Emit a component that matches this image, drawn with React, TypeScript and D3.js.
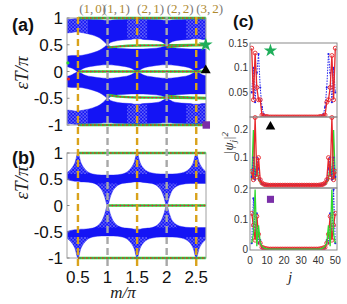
import React from 'react';
import * as d3 from 'd3';

// ---------- Panel (a)/(b) band data (ε/π vs m/π) ----------
const mGrid = [0.32, 0.4, 0.45, 0.5, 0.55, 0.6, 0.75, 0.9, 0.95, 1.0, 1.05, 1.1, 1.25, 1.4, 1.45, 1.5, 1.55, 1.6, 1.75, 1.9, 1.95, 2.0, 2.05, 2.1, 2.25, 2.4, 2.45, 2.5, 2.55, 2.6, 2.66];
// (a) upper band near π
const aP1hi = [0.97, 0.98, 0.99, 1.0, 0.99, 0.98, 0.97, 0.965, 0.96, 0.96, 0.96, 0.965, 0.97, 0.98, 0.99, 1.0, 0.99, 0.98, 0.97, 0.965, 0.96, 0.96, 0.96, 0.965, 0.97, 0.98, 0.99, 1.0, 0.99, 0.98, 0.975];
const aP1lo = [0.72, 0.73, 0.74, 0.74, 0.73, 0.72, 0.68, 0.6, 0.55, 0.5, 0.54, 0.56, 0.59, 0.6, 0.61, 0.61, 0.61, 0.6, 0.59, 0.56, 0.53, 0.5, 0.53, 0.56, 0.59, 0.6, 0.61, 0.61, 0.61, 0.6, 0.6];
// (a) band between 0 and π/2
const aP2hi = [0.29, 0.3, 0.3, 0.3, 0.3, 0.31, 0.35, 0.42, 0.46, 0.5, 0.47, 0.45, 0.43, 0.42, 0.42, 0.42, 0.42, 0.42, 0.43, 0.45, 0.47, 0.5, 0.47, 0.45, 0.43, 0.42, 0.42, 0.42, 0.42, 0.42, 0.42];
const aP2lo = [0.09, 0.06, 0.03, 0.0, 0.03, 0.06, 0.1, 0.12, 0.125, 0.125, 0.125, 0.12, 0.1, 0.06, 0.03, 0.0, 0.03, 0.06, 0.1, 0.12, 0.125, 0.125, 0.125, 0.12, 0.1, 0.06, 0.03, 0.0, 0.03, 0.06, 0.08];
// (b) band
const bHi = [0.63, 0.72, 0.82, 1.0, 0.82, 0.72, 0.6, 0.58, 0.58, 0.58, 0.58, 0.58, 0.6, 0.72, 0.82, 1.0, 0.82, 0.72, 0.62, 0.6, 0.6, 0.6, 0.6, 0.6, 0.62, 0.72, 0.82, 1.0, 0.82, 0.72, 0.65];
const bLo = [0.49, 0.47, 0.46, 0.46, 0.45, 0.45, 0.43, 0.3, 0.17, 0.0, 0.17, 0.3, 0.42, 0.44, 0.45, 0.45, 0.45, 0.44, 0.42, 0.3, 0.17, 0.0, 0.17, 0.3, 0.4, 0.42, 0.42, 0.42, 0.42, 0.42, 0.42];

// edge-state lines [m, ε]
const aEdgePi = [[0.5, 1], [2.66, 1]];
const aEdgeMinusPi = [[0.5, -1], [2.66, -1]];
const aEdgeZero = [[0.5, 0], [2.66, 0]];
const aEdgeHalf1 = [[1.0, 0.45], [1.2, 0.47], [1.5, 0.485], [2.0, 0.49], [2.66, 0.5]];
const aEdgeHalf2 = [[2.0, 0.45], [2.2, 0.475], [2.5, 0.49], [2.66, 0.495]];
const aEdgeMHalf1 = [[1.0, -0.44], [1.2, -0.47], [1.5, -0.485], [2.0, -0.49], [2.66, -0.5]];
const aEdgeMHalf2 = [[2.0, -0.45], [2.2, -0.475], [2.5, -0.49], [2.66, -0.495]];
const aEdgeDots = [[0.33, 0.16, 'g'], [0.34, -0.14, 'r']];
const bEdgePi = [[0.5, 1], [2.66, 1]];
const bEdgeMinusPi = [[0.5, -1], [2.66, -1]];
const bEdgeZero = [[1.0, 0], [2.66, 0]];

const transitionM = [0.5, 1.0, 1.5, 2.0, 2.5];
const transitionKind = ['gold', 'gray', 'gold', 'gray', 'gold'];
const windingLabels = [['1', '0'], ['1', '1'], ['2', '1'], ['2', '2'], ['3', '2']];
const windingLabelM = [0.52, 0.92, 1.5, 2.0, 2.5];

// fan (mesh-textured) regions: [ε from, ε to] for each transition kind
const aMeshRanges: Record<string, number[][]> = { gold: [[0.62, 1], [-1, -0.62]], gray: [] };
const bMeshRanges: Record<string, number[][]> = { gold: [[0.6, 1], [-1, -0.6]], gray: [[-0.42, 0.42]] };

const yTicks = [-1, -0.5, 0, 0.5, 1];
const yTickLabels = ['-1', '-0.5', '0', '0.5', '1'];
const xTicks = [0.5, 1, 1.5, 2, 2.5];
const xTickLabels = ['0.5', '1', '1.5', '2', '2.5'];

// markers at right edge of (a): [m, ε]
const aMarkers = [[2.66, 0.5, 'star'], [2.66, 0.02, 'tri'], [2.67, -1, 'sq']];

// ---------- Panel (c): |ψ_j|^2 ----------
const cBulk = [0, 0, 0, 0, 0, 0, 0, 0, 0, 0, 0, 0, 0, 0, 0, 0, 0, 0, 0, 0, 0, 0, 0, 0, 0, 0, 0, 0, 0, 0];
const cTopRedL = [0.14, 0.035, 0.13, 0.06, 0.035, 0.035, 0.004, 0.002, 0.001, 0.001];
const cTopRedR = [0.001, 0.001, 0.002, 0.004, 0.03, 0.035, 0.06, 0.125, 0.035, 0.14];
const cTopBlueL = [0.05, 0.1, 0.03, 0.09, 0.128, 0.06, 0.02, 0.006, 0.002, 0.001];
const cTopBlueR = [0.001, 0.002, 0.006, 0.02, 0.06, 0.128, 0.09, 0.03, 0.1, 0.05];
const cMidRedL = [0.05, 0.02, 0.245, 0.03, 0.1, 0.02, 0.008, 0.004, 0.002, 0.001];
const cMidRedR = [0.001, 0.002, 0.004, 0.008, 0.02, 0.1, 0.03, 0.245, 0.02, 0.05];
const cMidGreenL = [0.02, 0.2, 0.02, 0.08, 0.02, 0.01, 0.003, 0.001, 0.001, 0];
const cMidGreenR = [0, 0.001, 0.001, 0.003, 0.01, 0.02, 0.08, 0.02, 0.2, 0.02];
const cMidBlueL = [0.03, 0.1, 0.02, 0.1, 0.06, 0.02, 0.006, 0.003, 0.001, 0.001];
const cMidBlueR = [0.001, 0.001, 0.003, 0.006, 0.02, 0.06, 0.1, 0.02, 0.1, 0.03];
const cBotGreenL = [0.02, 0.05, 0.2, 0.01, 0.08, 0.02, 0.01, 0.005, 0.002, 0.001];
const cBotGreenR = [0.001, 0.002, 0.005, 0.01, 0.02, 0.08, 0.01, 0.2, 0.05, 0.02];
const cBotBlueL = [0.02, 0.17, 0.05, 0.12, 0.02, 0.03, 0.005, 0.003, 0.001, 0.001];
const cBotBlueR = [0.001, 0.001, 0.003, 0.005, 0.03, 0.02, 0.12, 0.05, 0.2, 0.02];
const cBotRedL = [0.12, 0.08, 0.03, 0.11, 0.05, 0.02, 0.006, 0.004, 0.002, 0.001];
const cBotRedR = [0.001, 0.002, 0.004, 0.006, 0.02, 0.05, 0.11, 0.03, 0.08, 0.12];
const cTopTicks = [0.05, 0.1, 0.15];
const cTopTickLabels = ['0.05', '0.1', '0.15'];
const cMidTicks = [0.1, 0.2];
const cMidTickLabels = ['0.1', '0.2'];
const cBotTicks = [0, 0.1, 0.2];
const cBotTickLabels = ['0', '0.1', '0.2'];
const cXTicks = [0, 10, 20, 30, 40, 50];
const cMarkerJ = 12;
const cMarkerVals = [0.135, 0.212, 0.167];

// ---------- scales ----------
const x = d3.scaleLinear().domain([0.315, 2.665]).range([67, 206]);
const ya = d3.scaleLinear().domain([-1, 1]).range([125, 18]);
const yb = d3.scaleLinear().domain([-1, 1]).range([258, 153]);
const xc = d3.scaleLinear().domain([0, 51]).range([250, 337]);
const ycTop = d3.scaleLinear().domain([0, 0.1505]).range([117, 43]);
const ycMid = d3.scaleLinear().domain([-0.01, 0.247]).range([188, 117]);
const ycBot = d3.scaleLinear().domain([-0.003, 0.205]).range([250, 188]);

const BLUE = '#1414f5';
const GOLD = '#d9a21b';
const GREEN = '#2fd92f';
const RED = '#e8262b';
const PURPLE = '#7a2fa8';
const SANS = 'Liberation Sans, Arial, sans-serif';
const SERIF = 'Liberation Serif, Times New Roman, serif';

function bandPath(y: any, lo: number[], hi: number[]) {
  const pts = mGrid.map((m, i) => ({ m, lo: lo[i], hi: hi[i] }));
  return d3.area<any>().x(d => x(d.m)).y0(d => y(d.lo)).y1(d => y(d.hi)).curve(d3.curveMonotoneX)(pts) as string;
}

function EdgeLine({ pts, y }: { pts: number[][]; y: any }) {
  const line = d3.line<number[]>().x(d => x(d[0])).y(d => y(d[1])).curve(d3.curveMonotoneX);
  const p = line(pts) as string;
  return (
    <g fill="none">
      <path d={p} stroke={GREEN} strokeWidth={2.4} />
      <path d={p} stroke={RED} strokeWidth={1.3} strokeDasharray="1.6,2.4" />
      <path d={p} stroke={PURPLE} strokeWidth={1} strokeDasharray="1,3" strokeDashoffset={2} />
    </g>
  );
}

function Marker({ kind, cx, cy, size }: { kind: string; cx: number; cy: number; size: number }) {
  if (kind === 'star') {
    return <path d={d3.symbol().type(d3.symbolStar).size(size * 1.1)() as string} transform={`translate(${cx},${cy})`} fill="#1fae5a" />;
  }
  if (kind === 'tri') {
    return <path d={d3.symbol().type(d3.symbolTriangle).size(size * 0.8)() as string} transform={`translate(${cx},${cy})`} fill="#000" />;
  }
  const s = Math.sqrt(size);
  return <rect x={cx - s / 2} y={cy - s / 2} width={s} height={s} fill={PURPLE} />;
}

function BandPanel({ y, top, bottom, bands, edges, label, labelY, meshRanges }: any) {
  return (
    <g>
      <clipPath id={`clip-${label}`}>
        <rect x={67} y={top} width={139} height={bottom - top} />
      </clipPath>
      <clipPath id={`bandclip-${label}`}>
        {bands.map((b: any, i: number) => <path key={i} d={bandPath(y, b[0], b[1])} />)}
      </clipPath>
      <g clipPath={`url(#clip-${label})`}>
        {bands.map((b: any, i: number) => (
          <path key={i} d={bandPath(y, b[0], b[1])} fill={BLUE} stroke={BLUE} strokeWidth={0.4} />
        ))}
        <g clipPath={`url(#bandclip-${label})`}>
          {transitionM.map((m, i) => meshRanges[transitionKind[i]].map((r: number[], k: number) => (
            <rect key={`${i}-${k}`} x={x(m - 0.17)} y={y(r[1])} width={x(m + 0.17) - x(m - 0.17)} height={y(r[0]) - y(r[1])} fill="url(#mesh)" />
          )))}
        </g>
      </g>
      <rect x={67} y={top} width={139} height={bottom - top} fill="none" stroke="#a0a0a0" strokeWidth={1} />
      {yTicks.map((t, i) => (
        <g key={i}>
          <line x1={67} x2={69.5} y1={y(t)} y2={y(t)} stroke="#888" />
          <text x={63} y={y(t)} dy="0.36em" textAnchor="end" fontFamily={SANS} fontSize={17} fill="#111">{yTickLabels[i]}</text>
        </g>
      ))}
      {edges.map((e: any, i: number) => <EdgeLine key={i} pts={e} y={y} />)}
      <text x={22} y={labelY} fontFamily={SERIF} fontStyle="italic" fontSize={19} textAnchor="middle" transform={`rotate(-90,22,${labelY})`} dy="0.3em" fill="#222">εT/π</text>
    </g>
  );
}

function CSeries({ vals, ys, color, kind }: { vals: number[]; ys: any; color: string; kind: string }) {
  const pts = vals.map((v, i) => [i + 1, v]);
  const line = d3.line<number[]>().x(d => xc(d[0])).y(d => ys(d[1]));
  const p = line(pts) as string;
  if (kind === 'red') {
    return (
      <g>
        <path d={p} fill="none" stroke={color} strokeWidth={1.3} />
        {pts.map((d, i) => <circle key={i} cx={xc(d[0])} cy={ys(d[1])} r={2} fill="none" stroke={color} strokeWidth={0.9} />)}
      </g>
    );
  }
  if (kind === 'blue') {
    return (
      <g>
        <path d={p} fill="none" stroke={color} strokeWidth={1} strokeDasharray="1.5,1.2" />
        {pts.map((d, i) => <circle key={i} cx={xc(d[0])} cy={ys(d[1])} r={1.1} fill={color} />)}
      </g>
    );
  }
  return <path d={p} fill="none" stroke={color} strokeWidth={1.3} />;
}

export default function App() {
  const bandsA = [
    [aP1lo, aP1hi],
    [aP2lo, aP2hi],
    [aP2hi.map(v => -v), aP2lo.map(v => -v)],
    [aP1hi.map(v => -v), aP1lo.map(v => -v)],
  ];
  const bandsB = [
    [bLo, bHi],
    [bHi.map(v => -v), bLo.map(v => -v)],
  ];
  const cTopRed = [...cTopRedL, ...cBulk, ...cTopRedR];
  const cTopBlue = [...cTopBlueL, ...cBulk, ...cTopBlueR];
  const cMidRed = [...cMidRedL, ...cBulk, ...cMidRedR];
  const cMidGreen = [...cMidGreenL, ...cBulk, ...cMidGreenR];
  const cMidBlue = [...cMidBlueL, ...cBulk, ...cMidBlueR];
  const cBotRed = [...cBotRedL, ...cBulk, ...cBotRedR];
  const cBotGreen = [...cBotGreenL, ...cBulk, ...cBotGreenR];
  const cBotBlue = [...cBotBlueL, ...cBulk, ...cBotBlueR];
  const cx0 = xc(0), cx1 = xc(51);
  const subs = [
    { ys: ycTop, top: 43, bottom: 117, ticks: cTopTicks, labels: cTopTickLabels, series: [[cTopBlue, '#2222ee', 'blue'], [cTopRed, RED, 'red']], marker: 'star' },
    { ys: ycMid, top: 117, bottom: 188, ticks: cMidTicks, labels: cMidTickLabels, series: [[cMidGreen, GREEN, 'green'], [cMidBlue, '#2222ee', 'blue'], [cMidRed, RED, 'red']], marker: 'tri' },
    { ys: ycBot, top: 188, bottom: 250, ticks: cBotTicks, labels: cBotTickLabels, series: [[cBotBlue, '#2222ee', 'blue'], [cBotRed, RED, 'red'], [cBotGreen, GREEN, 'green']], marker: 'sq' },
  ];

  return (
    <svg width={347} height={304} style={{ position: 'absolute', left: 0, top: 0, background: '#fff' }}>
      <defs>
        <pattern id="mesh" width={3.4} height={3.4} patternUnits="userSpaceOnUse">
          <path d="M0,3.4 L3.4,0 M0,0 L3.4,3.4" stroke="#ffffff" strokeWidth={0.5} strokeOpacity={0.55} />
        </pattern>
      </defs>
      <rect width={347} height={304} fill="#fff" />
      {/* winding labels */}
      {windingLabels.map((l, i) => (
        <text key={i} x={x(windingLabelM[i])} y={13} fontFamily={SERIF} fontSize={13} fill="#7a7a7a">
          (<tspan fill="#b08a2e">{l[0]}</tspan>,<tspan fill="#b08a2e" dx={2}>{l[1]}</tspan>)
        </text>
      ))}
      <BandPanel y={ya} top={18} bottom={125} label="a" labelY={73}
        bands={bandsA} meshRanges={aMeshRanges}
        edges={[aEdgePi, aEdgeMinusPi, aEdgeZero, aEdgeHalf1, aEdgeHalf2, aEdgeMHalf1, aEdgeMHalf2]} />
      {aEdgeDots.map((d: any, i) => (
        <circle key={i} cx={x(d[0])} cy={ya(d[1])} r={1.6} fill={d[2] === 'g' ? GREEN : RED} />
      ))}
      <BandPanel y={yb} top={153} bottom={258} label="b" labelY={183}
        bands={bandsB} meshRanges={bMeshRanges}
        edges={[bEdgePi, bEdgeMinusPi, bEdgeZero]} />
      {/* transition dashed lines */}
      {transitionM.map((m, i) => (
        <line key={i} x1={x(m)} x2={x(m)} y1={17} y2={266}
          stroke={transitionKind[i] === 'gold' ? GOLD : '#a8a8a8'} strokeWidth={2.4} strokeDasharray="7,4" />
      ))}
      {aMarkers.map((mk: any, i) => (
        <Marker key={i} kind={mk[2]} cx={x(mk[0])} cy={ya(mk[1])} size={55} />
      ))}
      {xTicks.map((t, i) => (
        <text key={i} x={x(t)} y={283} textAnchor="middle" fontFamily={SANS} fontSize={17} fill="#111">{xTickLabels[i]}</text>
      ))}
      <text x={123} y={298} textAnchor="middle" fontFamily={SERIF} fontStyle="italic" fontSize={17} fill="#222">m/π</text>
      <text x={12} y={31} fontFamily={SANS} fontWeight="bold" fontSize={18} fill="#111">(a)</text>
      <text x={12} y={164} fontFamily={SANS} fontWeight="bold" fontSize={18} fill="#111">(b)</text>
      <text x={233} y={27} fontFamily={SANS} fontWeight="bold" fontSize={17} fill="#111">(c)</text>

      {/* panel (c) */}
      {subs.map((s: any, k) => (
        <g key={k}>
          <clipPath id={`cc${k}`}><rect x={cx0} y={s.top - 2} width={cx1 - cx0} height={s.bottom - s.top + 2} /></clipPath>
          <g clipPath={`url(#cc${k})`}>
            {s.series.map((se: any, j: number) => <CSeries key={j} vals={se[0]} ys={s.ys} color={se[1]} kind={se[2]} />)}
          </g>
          <rect x={cx0} y={s.top} width={cx1 - cx0} height={s.bottom - s.top} fill="none" stroke="#8a8a8a" strokeWidth={1} />
          {s.ticks.map((t: number, i: number) => (
            <text key={i} x={248} y={s.ys(t)} dy="0.35em" textAnchor="end" fontFamily={SANS} fontSize={10} fill="#333">{s.labels[i]}</text>
          ))}
          <Marker kind={s.marker} cx={xc(cMarkerJ)} cy={s.ys(cMarkerVals[k])} size={50} />
        </g>
      ))}
      {cXTicks.map((t, i) => (
        <text key={i} x={xc(t)} y={264} textAnchor="middle" fontFamily={SANS} fontSize={10} fill="#333">{t}</text>
      ))}
      <text x={290} y={282} textAnchor="middle" fontFamily={SERIF} fontStyle="italic" fontSize={15} fill="#222">j</text>
      <text x={229} y={143} textAnchor="middle" transform="rotate(-90,229,143)" dy="0.3em" fontFamily={SERIF} fontStyle="italic" fontSize={13} fill="#222">
        |ψ<tspan fontSize={9} dy={3}>j</tspan><tspan dy={-3}>|</tspan><tspan fontSize={9} dy={-5}>2</tspan>
      </text>
    </svg>
  );
}
